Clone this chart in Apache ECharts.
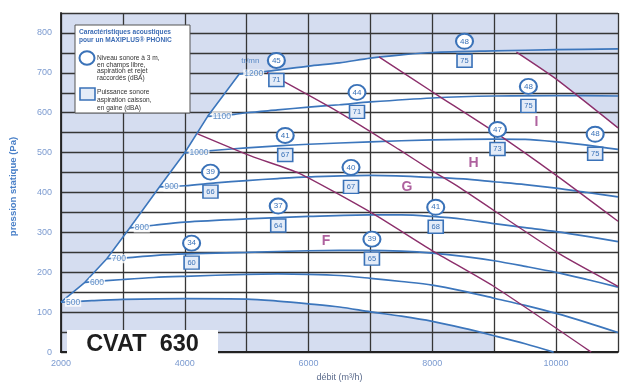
<!DOCTYPE html>
<html><head><meta charset="utf-8">
<script src="https://cdn.jsdelivr.net/npm/echarts@6/dist/echarts.min.js"></script>
<style>html,body{margin:0;padding:0;background:#fff}#c{width:621px;height:387px}</style>
</head><body><div id="c"></div>
<script>
// ---- data (débit m3/h, pression Pa) ----
const boundary = [[2000,125],[2386,175],[2740,234],[3110,311],[3590,414],[3997,499],[4370,591],[4880,697]];
const rpmLabels = ['500','600','700','800','900','1000','1100','1200'];
const curve500 = [[2000,125],[2500,129],[3000,132],[4000,134],[5000,133],[5500,128],[6000,121],[6500,113],[7000,101],[7500,90],[8000,77],[8500,60],[9000,41],[9500,21],[9960,0]];
const curve600 = [[2386,175],[3000,182],[3500,187],[4000,190],[5000,195],[5500,196],[6000,195],[6500,192],[7000,185],[7500,177],[8000,168],[8500,153],[9000,135],[9500,117],[10000,97],[10500,74],[11000,49]];
const curve700 = [[2740,234],[3000,236],[3500,242],[4000,246],[5000,250],[6000,254],[7000,255],[7500,253],[8000,248],[8500,240],[9000,229],[9500,215],[10000,200],[10500,182],[11000,163]];
const curve800 = [[3110,311],[3500,318],[4000,326],[5000,334],[6000,340],[7000,344],[7500,344],[8000,340],[8500,333],[9000,322],[9500,312],[10000,302],[10500,290],[11000,277]];
const curve900 = [[3590,414],[4000,417],[4500,424],[5000,430],[5500,435],[6000,439],[7000,443],[8000,438],[8500,434],[9000,427],[9500,420],[10000,411],[10500,400],[11000,389]];
const curve1000 = [[3997,499],[4500,506],[5000,512],[5500,517],[6000,521],[7000,527],[8000,532],[9000,534],[9500,533],[10000,527],[10500,519],[11000,508]];
const curve1100 = [[4370,591],[4800,596],[5000,600],[5500,607],[6000,614],[6500,620],[7000,627],[8000,637],[9000,642],[10000,643],[11000,642]];
const curve1200 = [[4880,697],[5000,699],[5400,705],[6000,717],[6500,725],[7000,737],[7500,745],[8000,751],[9000,755],[10000,758],[11000,760]];
const limitFG = [[4206,547],[5076,491],[5849,448],[7008,350],[7990,255],[9021,162],[10567,0]];
const limitGH = [[5330,701],[6493,601],[7459,508],[7990,455],[8425,414],[10035,248],[11000,165]];
const limitHI = [[7137,740],[8023,650],[9021,550],[10003,443],[11000,328]];
const limitI = [[9359,752],[9987,686],[11000,562]];
const letterQ = [6283,7588,8667,9681];
const letterP = [277,414,474,577];
const letterText = ['F','G','H','I'];
const markerQ = [5480,8520,6783,9552,5623,9053,10631,4415,6686,5510,8055,4110,7024];
const markerP = [706,754,626,641,518,533,521,426,438,341,338,248,258];
const circleVals = [45,48,44,48,41,47,48,39,40,37,41,34,39];
const squareVals = [71,75,71,75,67,73,75,66,67,64,68,60,65];
const xTickLabels = [2000,4000,6000,8000,10000];
const yTickLabels = [0,100,200,300,400,500,600,700,800];
// zone corners below the 500 curve
const zoneBottom = [[11000,0],[9000,0]];

const BLUE = '#3c76bc', PURPLE = '#8c2f6b', FONT = 'Liberation Sans, Arial, sans-serif';
const curves = [curve500,curve600,curve700,curve800,curve900,curve1000,curve1100,curve1200];

// white operating zone polygon built from the curves
const zone = [].concat(
  boundary,
  curve1200.filter(p => p[0] > boundary[boundary.length-1][0] && p[0] < limitI[0][0]),
  limitI,
  zoneBottom,
  [[9000, curve500.find(p=>p[0]===9000)[1]]],
  curve500.filter(p => p[0] < 9000).reverse()
);

const chart = echarts.init(document.getElementById('c'), null, {renderer:'canvas'});
const series = [];
series.push({
  type:'custom', z:1, silent:true, data:[[2000,0]], clip:true,
  renderItem:(params, api) => ({type:'polygon', shape:{points: zone.map(p => api.coord(p))}, style:{fill:'#ffffff'}})
});
series.push({type:'line', z:5, data:boundary, symbol:'none', lineStyle:{color:BLUE, width:1.6}, silent:true});
curves.forEach(c => series.push({type:'line', z:5, data:c, symbol:'none', smooth:0.3, lineStyle:{color:BLUE, width:1.7}, silent:true}));
[limitFG,limitGH,limitHI,limitI].forEach(c => series.push({type:'line', z:5, data:c, symbol:'none', smooth:0.2, lineStyle:{color:PURPLE, width:1.4}, silent:true}));
// rpm labels
series.push({
  type:'scatter', z:7, silent:true, symbolSize:0,
  data: boundary.map((p,i)=>[p[0],p[1],rpmLabels[i]]),
  label:{show:true, position:'right', distance:4, formatter:p=>p.data[2], color:BLUE, fontSize:8.5, fontFamily:FONT, backgroundColor:'#fff', padding:[0,1,0,1]}
});
series.push({
  type:'scatter', z:7, silent:true, symbolSize:0,
  data: [[boundary[boundary.length-1][0], boundary[boundary.length-1][1], 'tr/mn']],
  label:{show:true, position:'right', distance:2, offset:[0,-13], formatter:p=>p.data[2], color:BLUE, fontSize:8, fontFamily:FONT}
});
// letters
series.push({
  type:'scatter', z:7, silent:true, symbolSize:0,
  data: letterQ.map((q,i)=>[q, letterP[i], letterText[i]]),
  label:{show:true, position:'inside', formatter:p=>p.data[2], color:'#9a3a86', fontSize:14, fontWeight:'bold', fontFamily:FONT}
});
// circle markers
series.push({
  type:'scatter', z:8, silent:true, symbol:'circle', symbolSize:[17,15], symbolOffset:[0,-10],
  data: markerQ.map((q,i)=>[q, markerP[i], circleVals[i]]),
  itemStyle:{color:'#fff', borderColor:'#3a72b8', borderWidth:2, opacity:1},
  label:{show:true, position:'inside', formatter:p=>p.data[2], color:'#3a72b8', fontSize:8, fontFamily:FONT}
});
series.push({
  type:'scatter', z:8, silent:true, symbol:'rect', symbolSize:[15,13], symbolOffset:[0,9.5],
  data: markerQ.map((q,i)=>[q, markerP[i], squareVals[i]]),
  itemStyle:{color:'#e4ecf8', borderColor:'#3a72b8', borderWidth:1.5, opacity:1},
  label:{show:true, position:'inside', formatter:p=>p.data[2], color:'#3a72b8', fontSize:7.5, fontFamily:FONT}
});

const legendTexts = [
  {t:'Caractéristiques acoustiques', x:79, y:32.5, bold:true},
  {t:'pour un MAXIPLUS® PHONIC', x:79, y:40.5, bold:true},
  {t:'Niveau sonore à 3 m,', x:97, y:58},
  {t:'en champs libre,', x:97, y:64.7},
  {t:'aspiration et rejet', x:97, y:71.4},
  {t:'raccordés (dBA)', x:97, y:78.1},
  {t:'Puissance sonore', x:97, y:92.3},
  {t:'aspiration caisson,', x:97, y:100.2},
  {t:'en gaine (dBA)', x:97, y:108.1}
];

const option = {
  animation:false,
  grid:{left:61, right:1, top:13, bottom:25, show:true, backgroundColor:'#d5ddf0', borderWidth:0, z:0},
  xAxis:{
    type:'value', min:2000, max:11000, interval:1000, z:3,
    name:'débit (m³/h)', nameLocation:'middle', nameGap:20,
    nameTextStyle:{color:'#5b6b8c', fontSize:9, fontFamily:FONT},
    axisLine:{show:true, onZero:false, lineStyle:{color:'#222', width:1.8}},
    axisTick:{show:false},
    axisLabel:{margin:7, color:'#7c9bd0', fontSize:9, fontFamily:FONT, formatter:v => xTickLabels.includes(v) ? String(v) : ''},
    splitLine:{show:true, lineStyle:{color:'#363636', width:1.3}}
  },
  yAxis:{
    type:'value', min:0, max:850, interval:50, z:3,
    name:'pression statique (Pa)', nameLocation:'middle', nameGap:43, nameRotate:90,
    nameTextStyle:{color:'#4a80c8', fontSize:9.5, fontWeight:'bold', fontFamily:FONT, padding:[0,8,0,0]},
    axisLine:{show:true, onZero:false, lineStyle:{color:'#222', width:1.8}},
    axisTick:{show:false},
    axisLabel:{margin:9, color:'#7c9bd0', fontSize:9, fontFamily:FONT, formatter:v => yTickLabels.includes(v) ? String(v) : ''},
    splitLine:{show:true, lineStyle:{color:'#363636', width:1.3}}
  },
  graphic:[
    {type:'rect', z:20, shape:{x:75, y:25, width:115, height:88}, style:{fill:'#fff', stroke:'#555', lineWidth:1}},
    {type:'ellipse', z:21, shape:{cx:87, cy:58, rx:7.5, ry:6.8}, style:{fill:'#fff', stroke:'#3a72b8', lineWidth:2}},
    {type:'rect', z:21, shape:{x:80, y:88, width:15, height:12}, style:{fill:'#e4ecf8', stroke:'#3a72b8', lineWidth:1.6}},
    ...legendTexts.map(o => ({type:'text', z:21, x:o.x, y:o.y, style:{text:o.t, fill:o.bold?'#3d6db5':'#333', font:(o.bold?'bold ':'')+'6.6px '+FONT, textVerticalAlign:'middle'}})),
    {type:'rect', z:20, shape:{x:67, y:330, width:151, height:27}, style:{fill:'#fff'}},
    {type:'text', z:21, x:142.5, y:345, style:{text:'CVAT  630', fill:'#1e1e1e', font:'bold 23.5px '+FONT, textAlign:'center', textVerticalAlign:'middle'}}
  ],
  series
};
chart.setOption(option);
</script></body></html>
